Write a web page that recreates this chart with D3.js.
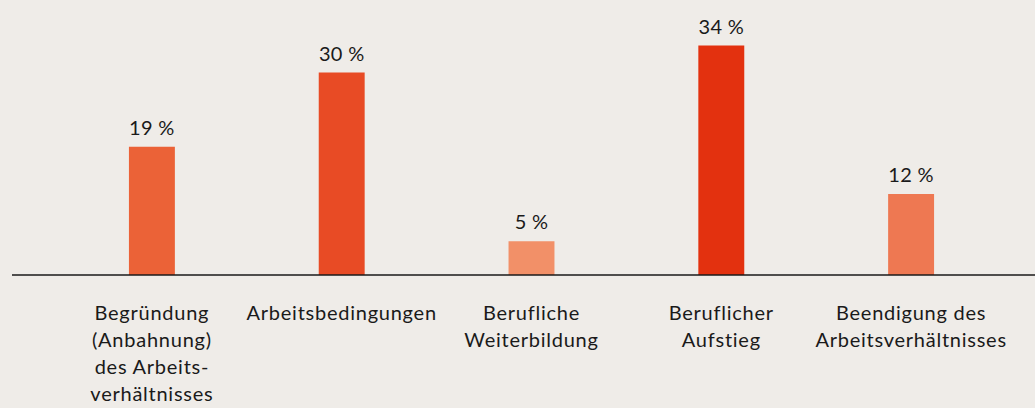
<!DOCTYPE html>
<html>
<head>
<meta charset="utf-8">
<script src="https://cdn.jsdelivr.net/npm/d3@7"></script>
<style>
  html, body { margin: 0; padding: 0; background: #efece8; }
  svg { display: block; font-family: Lato, "Noto Sans", sans-serif; }
</style>
</head>
<body>
<svg></svg>
<script>
const width = 1035
const height = 408

// data
const categories = [
  'Begründung (Anbahnung) des Arbeitsverhältnisses',
  'Arbeitsbedingungen',
  'Berufliche Weiterbildung',
  'Beruflicher Aufstieg',
  'Beendigung des Arbeitsverhältnisses'
]
const tickLines = [
  ['Begründung', '(Anbahnung)', 'des Arbeits-', 'verhältnisses'],
  ['Arbeitsbedingungen'],
  ['Berufliche', 'Weiterbildung'],
  ['Beruflicher', 'Aufstieg'],
  ['Beendigung des', 'Arbeitsverhältnisses']
]
const values = [19, 30, 5, 34, 12]
const colors = ['#eb6237', '#e84b25', '#f29068', '#e3310f', '#ee7852']

const baseY = 275

const svg = d3.select('svg').attr('width', width).attr('height', height)

const x = d3.scaleBand()
  .domain(categories)
  .range([57, 1006])
  .paddingInner(0.758)
  .paddingOuter(0.379)

const y = d3.scaleLinear()
  .domain([0, 40])
  .range([baseY, baseY - 270])

svg.append('g')
  .selectAll('rect')
  .data(values)
  .join('rect')
  .attr('x', (d, i) => x(categories[i]))
  .attr('y', d => y(d))
  .attr('width', x.bandwidth())
  .attr('height', d => y(0) - y(d))
  .attr('fill', (d, i) => colors[i])

svg.append('g')
  .selectAll('text')
  .data(values)
  .join('text')
  .attr('x', (d, i) => x(categories[i]) + x.bandwidth() / 2)
  .attr('y', d => y(d) - 12)
  .attr('text-anchor', 'middle')
  .style('font-size', '20px')
  .style('letter-spacing', '0.3px')
  .style('fill', '#1a1a1a')
  .text(d => d + ' %')

// baseline
svg.append('line')
  .attr('x1', 12).attr('x2', width)
  .attr('y1', baseY).attr('y2', baseY)
  .style('stroke', '#1a1a1a')
  .style('stroke-width', 1.5)

const axis = svg.append('g')
  .attr('transform', `translate(0,${baseY})`)
  .call(d3.axisBottom(x).tickSize(0).tickPadding(0))

axis.select('.domain').remove()
axis.selectAll('.tick text')
  .attr('fill', '#1a1a1a')
  .style('font-size', '20px')
  .style('letter-spacing', '0.75px')
  .style('font-family', 'Lato, "Noto Sans", sans-serif')
  .attr('dy', null)
  .attr('y', 0)
  .each(function (d, i) {
    const t = d3.select(this).text('')
    tickLines[i].forEach((line, j) => {
      t.append('tspan')
        .attr('x', 0)
        .attr('y', 45 + j * 27)
        .text(line)
    })
  })
</script>
</body>
</html>
